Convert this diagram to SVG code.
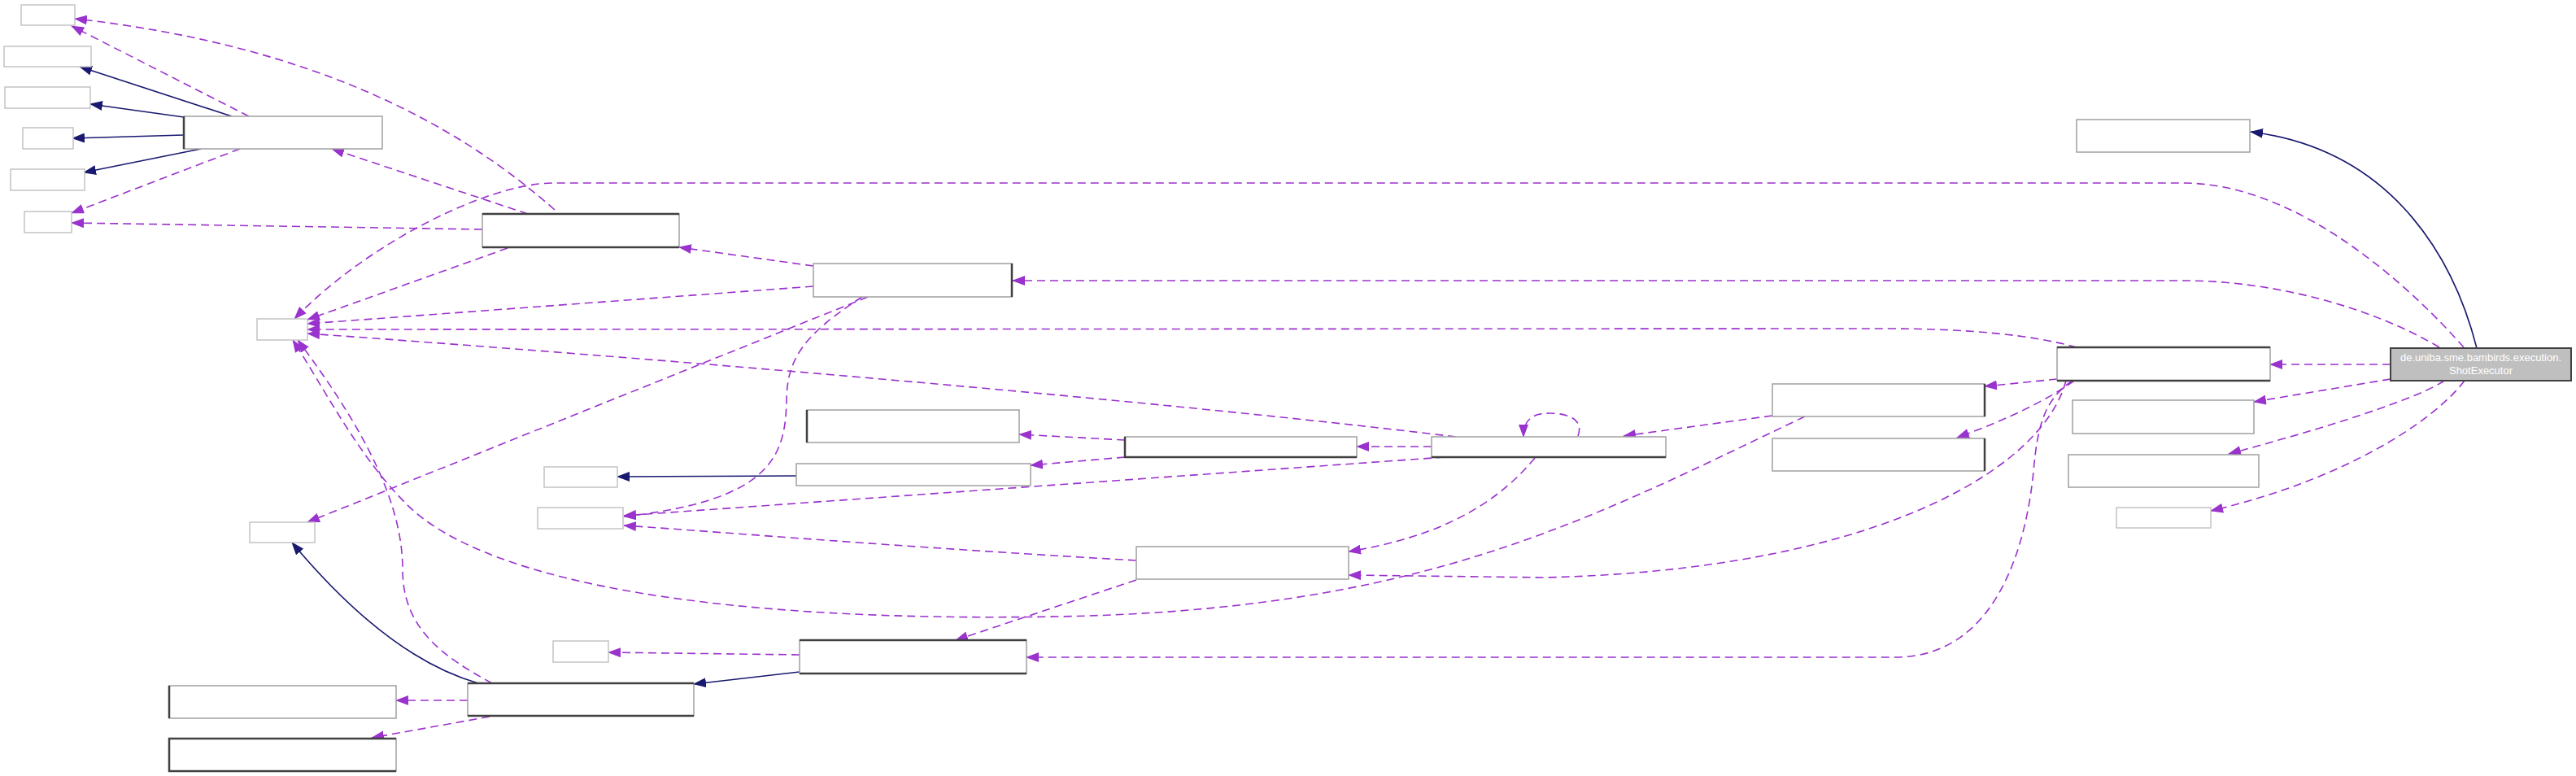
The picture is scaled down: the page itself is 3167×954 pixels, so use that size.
<svg xmlns="http://www.w3.org/2000/svg" width="3167" height="954" viewBox="0 0 3167 954">
<style>
.bg{fill:#ffffff}
.n{fill:#ffffff;stroke:#a0a0a0;stroke-width:1.5}
.s{fill:#ffffff;stroke:#c4c4c4;stroke-width:1.5}
.dk{stroke:#404040;stroke-width:2.5;fill:none}
.m{fill:#bfbfbf;stroke:#404040;stroke-width:2}
.u{fill:none;stroke:#9a32cd;stroke-width:1.6;stroke-dasharray:10,6}
.i{fill:none;stroke:#191970;stroke-width:1.6}
.t{font-family:"Liberation Sans",Arial,sans-serif;font-size:13px;fill:#ffffff;text-anchor:middle}
</style>
<defs>
<marker id="ap" markerUnits="userSpaceOnUse" viewBox="0 0 16 12" refX="15" refY="6" markerWidth="16" markerHeight="12" orient="auto"><path d="M0,0 L16,6 L0,12 z" fill="#9a32cd"/></marker>
<marker id="an" markerUnits="userSpaceOnUse" viewBox="0 0 16 12" refX="15" refY="6" markerWidth="16" markerHeight="12" orient="auto"><path d="M0,0 L16,6 L0,12 z" fill="#191970"/></marker>
</defs>
<rect class="bg" x="0" y="0" width="3167" height="954"/>
<g id="edges">
<path class="i" marker-end="url(#an)" d="M285,143 L98,82"/>
<path class="i" marker-end="url(#an)" d="M226,144 L111,128"/>
<path class="i" marker-end="url(#an)" d="M226,166 L89,170"/>
<path class="i" marker-end="url(#an)" d="M247,183 L103,212"/>
<path class="i" marker-end="url(#an)" d="M3045,428 C3020,330 2950,185 2767,162"/>
<path class="i" marker-end="url(#an)" d="M979,585 L759,586"/>
<path class="i" marker-end="url(#an)" d="M983,826 L853,841"/>
<path class="i" marker-end="url(#an)" d="M588,840 C500,815 420,740 359,667"/>
<path class="u" marker-end="url(#ap)" d="M306,143 L88,32"/>
<path class="u" marker-end="url(#ap)" d="M295,183 L88,262"/>
<path class="u" marker-end="url(#ap)" d="M682,258 C560,150 380,55 92,23"/>
<path class="u" marker-end="url(#ap)" d="M649,263 L408,183"/>
<path class="u" marker-end="url(#ap)" d="M593,282 L88,274"/>
<path class="u" marker-end="url(#ap)" d="M624,305 L378,393"/>
<path class="u" marker-end="url(#ap)" d="M1000,327 L835,304"/>
<path class="u" marker-end="url(#ap)" d="M1000,352 L378,398"/>
<path class="u" marker-end="url(#ap)" d="M1067,365 L378,642"/>
<path class="u" marker-end="url(#ap)" d="M1060,365 C990,410 968,440 967,490 C966,560 950,615 767,635"/>
<path class="u" marker-end="url(#ap)" d="M3029,427 C2970,360 2830,225 2684,225 L680,225 C600,225 450,300 362,392"/>
<path class="u" marker-end="url(#ap)" d="M2999,427 C2920,380 2800,345 2684,345 L1245,345"/>
<path class="u" marker-end="url(#ap)" d="M2939,448 L2791,448"/>
<path class="u" marker-end="url(#ap)" d="M2939,466 L2771,494"/>
<path class="u" marker-end="url(#ap)" d="M3005,468 C2980,485 2900,515 2740,558"/>
<path class="u" marker-end="url(#ap)" d="M3030,468 C2990,520 2880,590 2718,628"/>
<path class="u" marker-end="url(#ap)" d="M2553,427 C2500,412 2420,404 2320,404 L378,405"/>
<path class="u" marker-end="url(#ap)" d="M2529,466 L2440,475"/>
<path class="u" marker-end="url(#ap)" d="M2550,468 C2520,490 2470,515 2406,538"/>
<path class="u" marker-end="url(#ap)" d="M2540,468 C2510,580 2300,700 1900,710 L1658,707"/>
<path class="u" marker-end="url(#ap)" d="M2548,468 C2515,490 2505,520 2500,580 C2490,680 2450,808 2330,808 L1262,808"/>
<path class="u" marker-end="url(#ap)" d="M2179,511 L1996,536"/>
<path class="u" marker-end="url(#ap)" d="M2219,512 C1950,640 1750,750 1300,758 C900,765 600,720 500,620 C440,560 400,480 360,418"/>
<path class="u" marker-end="url(#ap)" d="M1940,536 C1948,514 1925,508 1905,508 C1885,508 1873,515 1873,537"/>
<path class="u" marker-end="url(#ap)" d="M1760,549 L1668,549"/>
<path class="u" marker-end="url(#ap)" d="M1790,537 C1400,490 800,440 378,410"/>
<path class="u" marker-end="url(#ap)" d="M1887,563 C1840,620 1770,660 1658,678"/>
<path class="u" marker-end="url(#ap)" d="M1776,562 L767,634"/>
<path class="u" marker-end="url(#ap)" d="M1383,541 L1253,534"/>
<path class="u" marker-end="url(#ap)" d="M1383,562 L1267,572"/>
<path class="u" marker-end="url(#ap)" d="M1397,689 C1100,672 900,655 767,646"/>
<path class="u" marker-end="url(#ap)" d="M1397,713 L1175,787"/>
<path class="u" marker-end="url(#ap)" d="M983,805 L748,802"/>
<path class="u" marker-end="url(#ap)" d="M605,840 C540,805 495,770 495,700 C495,620 450,530 366,418"/>
<path class="u" marker-end="url(#ap)" d="M575,861 L487,861"/>
<path class="u" marker-end="url(#ap)" d="M602,881 L457,907"/>
</g>
<g id="n1"><rect class="s" x="26" y="6" width="66" height="25"/></g>
<g id="n2"><rect class="s" x="5" y="57" width="107" height="25"/></g>
<g id="n3"><rect class="s" x="6" y="107" width="105" height="26"/></g>
<g id="n4"><rect class="s" x="28" y="157" width="62" height="26"/></g>
<g id="n5"><rect class="s" x="13" y="208" width="91" height="26"/></g>
<g id="n6"><rect class="s" x="30" y="260" width="58" height="26"/></g>
<g id="nA"><rect class="n" x="226" y="143" width="244" height="40"/><path class="dk" d="M226,143 V183"/></g>
<g id="nB"><rect class="n" x="593" y="263" width="242" height="41"/><path class="dk" d="M593,263 H835 M593,304 H835"/></g>
<g id="nP"><rect class="n" x="1000" y="324" width="244" height="41"/><path class="dk" d="M1244,324 V365"/></g>
<g id="nU"><rect class="s" x="316" y="392" width="62" height="26"/></g>
<g id="nV"><rect class="s" x="307" y="642" width="80" height="25"/></g>
<g id="nW"><rect class="s" x="669" y="574" width="90" height="25"/></g>
<g id="nX"><rect class="s" x="661" y="624" width="105" height="26"/></g>
<g id="nY"><rect class="s" x="680" y="788" width="68" height="26"/></g>
<g id="nQ"><rect class="n" x="992" y="504" width="261" height="40"/><path class="dk" d="M992,504 V544"/></g>
<g id="nR"><rect class="n" x="979" y="570" width="288" height="27"/></g>
<g id="nS"><rect class="n" x="1383" y="537" width="285" height="25"/><path class="dk" d="M1383,537 V562 H1668"/></g>
<g id="nT"><rect class="n" x="1760" y="537" width="288" height="25"/><path class="dk" d="M1760,562 H2048"/></g>
<g id="nG"><rect class="n" x="2179" y="472" width="261" height="40"/><path class="dk" d="M2440,472 V512"/></g>
<g id="nH"><rect class="n" x="2179" y="539" width="261" height="40"/><path class="dk" d="M2440,539 V579"/></g>
<g id="nZ"><rect class="n" x="1397" y="672" width="261" height="40"/></g>
<g id="nAA"><rect class="n" x="983" y="787" width="279" height="41"/><path class="dk" d="M983,787 H1262 M983,828 H1262"/></g>
<g id="nBB"><rect class="n" x="575" y="840" width="278" height="40"/><path class="dk" d="M575,840 H853 M575,880 H853"/></g>
<g id="nCC"><rect class="n" x="208" y="843" width="279" height="40"/><path class="dk" d="M208,843 V883"/></g>
<g id="nDD"><rect class="n" x="208" y="908" width="279" height="40"/><path class="dk" d="M487,908 H208 V948 H487"/></g>
<g id="nTR"><rect class="n" x="2553" y="147" width="213" height="40"/></g>
<g id="nC"><rect class="n" x="2529" y="427" width="262" height="41"/><path class="dk" d="M2529,427 H2791 M2529,468 H2791"/></g>
<g id="nD"><rect class="n" x="2548" y="492" width="223" height="41"/></g>
<g id="nE"><rect class="n" x="2543" y="559" width="234" height="40"/></g>
<g id="nF"><rect class="s" x="2602" y="624" width="116" height="25"/></g>
<g id="main"><rect class="m" x="2939" y="428" width="222" height="40"/>
<text class="t" x="3050" y="444">de.uniba.sme.bambirds.execution.</text>
<text class="t" x="3050" y="460">ShotExecutor</text></g>
</svg>
